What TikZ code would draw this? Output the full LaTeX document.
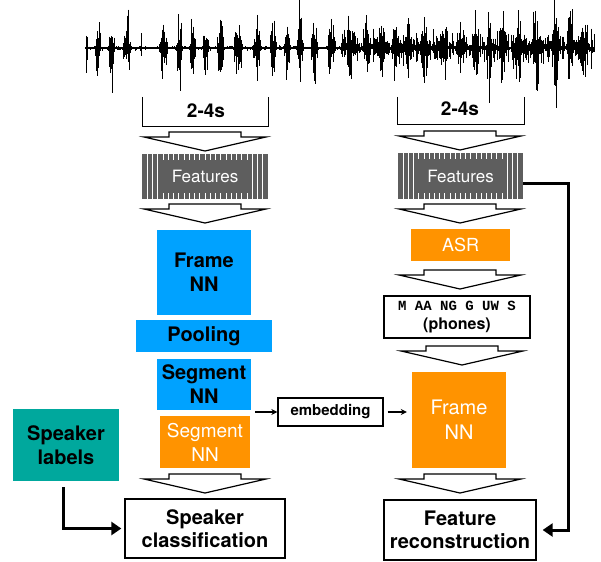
\documentclass[tikz,border=0pt]{standalone}
\usepackage{fontspec}
\setmainfont{TeX Gyre Heros}
\newfontfamily\phonefont{Liberation Mono}
\usetikzlibrary{positioning,calc,arrows.meta}
\definecolor{nnblue}{HTML}{00A2FF}
\definecolor{nnorange}{HTML}{FF9300}
\definecolor{labelteal}{HTML}{00A89D}
\definecolor{featgray}{HTML}{5E5E5E}

\tikzset{
  box/.style={draw, line width=1.3pt, fill=white, align=center, inner sep=0pt,
    font=\bfseries\fontsize{20}{23.5}\selectfont},
  bluebox/.style={fill=nnblue, align=center, inner sep=0pt,
    font=\bfseries\fontsize{20}{24}\selectfont},
  orangebox/.style={fill=nnorange, text=white, align=center, inner sep=0pt,
    font=\fontsize{19}{24}\selectfont},
  featbox/.style={fill=featgray, text=white, inner sep=0pt,
    font=\fontsize{17}{20}\selectfont,
    path picture={
      \foreach \k in {1,...,23}
        \draw[white, line width=1pt]
          ($(path picture bounding box.south west)!\k/24!(path picture bounding box.south east)$) --
          ($(path picture bounding box.north west)!\k/24!(path picture bounding box.north east)$);
      \fill[featgray] ([xshift=19pt,yshift=6pt]path picture bounding box.south west)
        rectangle ([xshift=-19pt,yshift=-6pt]path picture bounding box.north east);
    }},
  thinarrow/.style={line width=1.2pt, -{Stealth[length=6pt,width=6pt]}},
  thickarrow/.style={line width=3pt, -{Triangle[length=10pt,width=13pt]}},
  flowarrow/.pic={
    \draw[line width=1.2pt, fill=white] (-36,0) -- (36,0) -- (36,5) -- (61,5)
      -- (0,19) -- (-61,5) -- (-36,5) -- cycle;
  },
}

\begin{document}
\begin{tikzpicture}[x=1pt,y=-1pt]
\useasboundingbox (0,0) rectangle (601,561);

% waveform
\pgfmathsetseed{42}
\foreach \i in {86,...,594} {
  \pgfmathsetmacro\burst{max(0,sin(\i*23+70*sin(\i*3.7)))}
  \pgfmathsetmacro\env{(0.05+0.95*max(\burst,0.5*(\i>340)*rnd))*(1-0.95*(\i>141)*(\i<157))*(1+0.3*(\i>470))}
  \pgfmathsetmacro\up{\env*(6+30*rnd+22*(rnd>0.93))}
  \pgfmathsetmacro\dn{\env*(6+28*rnd+22*(rnd>0.93))}
  \draw[line width=0.9pt] (\i,48-\up) -- (\i,48+\dn);
}
\draw[line width=1.2pt] (85,48) -- (595,48);

% speaker branch
\draw[line width=1pt] (142,97) |- (268,127) -- (268,97);
\node[font=\bfseries\fontsize{19}{22}\selectfont] (spanL) at (206,111) {2-4s};
\pic at (205,132) {flowarrow};
\node[featbox, minimum width=126pt, minimum height=45pt] (featL) at (205,176.5) {Features};
\pic at (205,204) {flowarrow};
\node[bluebox, minimum width=94pt, minimum height=85pt] (frameL) at (204,272.5) {Frame\\NN};
\node[bluebox, minimum width=136pt, minimum height=32pt] (pool) at (204,336) {Pooling};
\node[bluebox, minimum width=94pt, minimum height=51pt] (segL) at (204,384.5) {Segment\\NN};
\node[orangebox, minimum width=90pt, minimum height=52pt] (segO) at (205,442) {Segment\\NN};
\pic at (205,474) {flowarrow};
\node[box, minimum width=160pt, minimum height=59pt] (spkcls) at (205,528.5) {Speaker\\classification};
\node[fill=labelteal, align=center, inner sep=0pt, minimum width=106pt, minimum height=72pt,
  font=\bfseries\fontsize{20}{24}\selectfont] (labels) at (66,445) {Speaker\\labels};

% reconstruction branch
\draw[line width=1pt] (397,97) |- (524,125) -- (524,97);
\node[font=\bfseries\fontsize{19}{22}\selectfont] (spanR) at (460,109) {2-4s};
\pic at (460,131) {flowarrow};
\node[featbox, minimum width=125pt, minimum height=46pt] (featR) at (460.5,176) {Features};
\pic at (460,204) {flowarrow};
\node[orangebox, minimum width=99pt, minimum height=32pt, font=\fontsize{18}{22}\selectfont] (asr) at (460.5,245) {ASR};
\pic at (460,270) {flowarrow};
\node[box, minimum width=146pt, minimum height=42pt, font=\bfseries\fontsize{16}{19}\selectfont] (phones) at (457,317)
  {{\phonefont\fontsize{14}{16}\selectfont M AA NG G UW S}\\(phones)};
\pic at (462,346) {flowarrow};
\node[orangebox, minimum width=94pt, minimum height=96pt, font=\fontsize{20}{25}\selectfont] (frameO) at (459,420) {Frame\\NN};
\pic at (460,474) {flowarrow};
\node[box, minimum width=152pt, minimum height=60pt] (featrec) at (460,530) {Feature\\reconstruction};

\node[box, minimum width=105pt, minimum height=28pt, font=\bfseries\fontsize{15}{18}\selectfont] (emb) at (330.5,412) {embedding};

% connectors
\draw[thinarrow] ([xshift=-22pt]emb.west) -- (emb.west);
\draw[thinarrow] ([xshift=4pt]emb.east) -- ([xshift=-5pt]emb.east -| frameO.west);
\draw[thickarrow] ([xshift=-3pt,yshift=-6pt]labels.south) |- ([xshift=-3pt]spkcls.west);
\draw[thickarrow] ([yshift=-8pt]featR.east) -- ++(45,0) |- ([xshift=6pt]featrec.east);
\end{tikzpicture}
\end{document}
